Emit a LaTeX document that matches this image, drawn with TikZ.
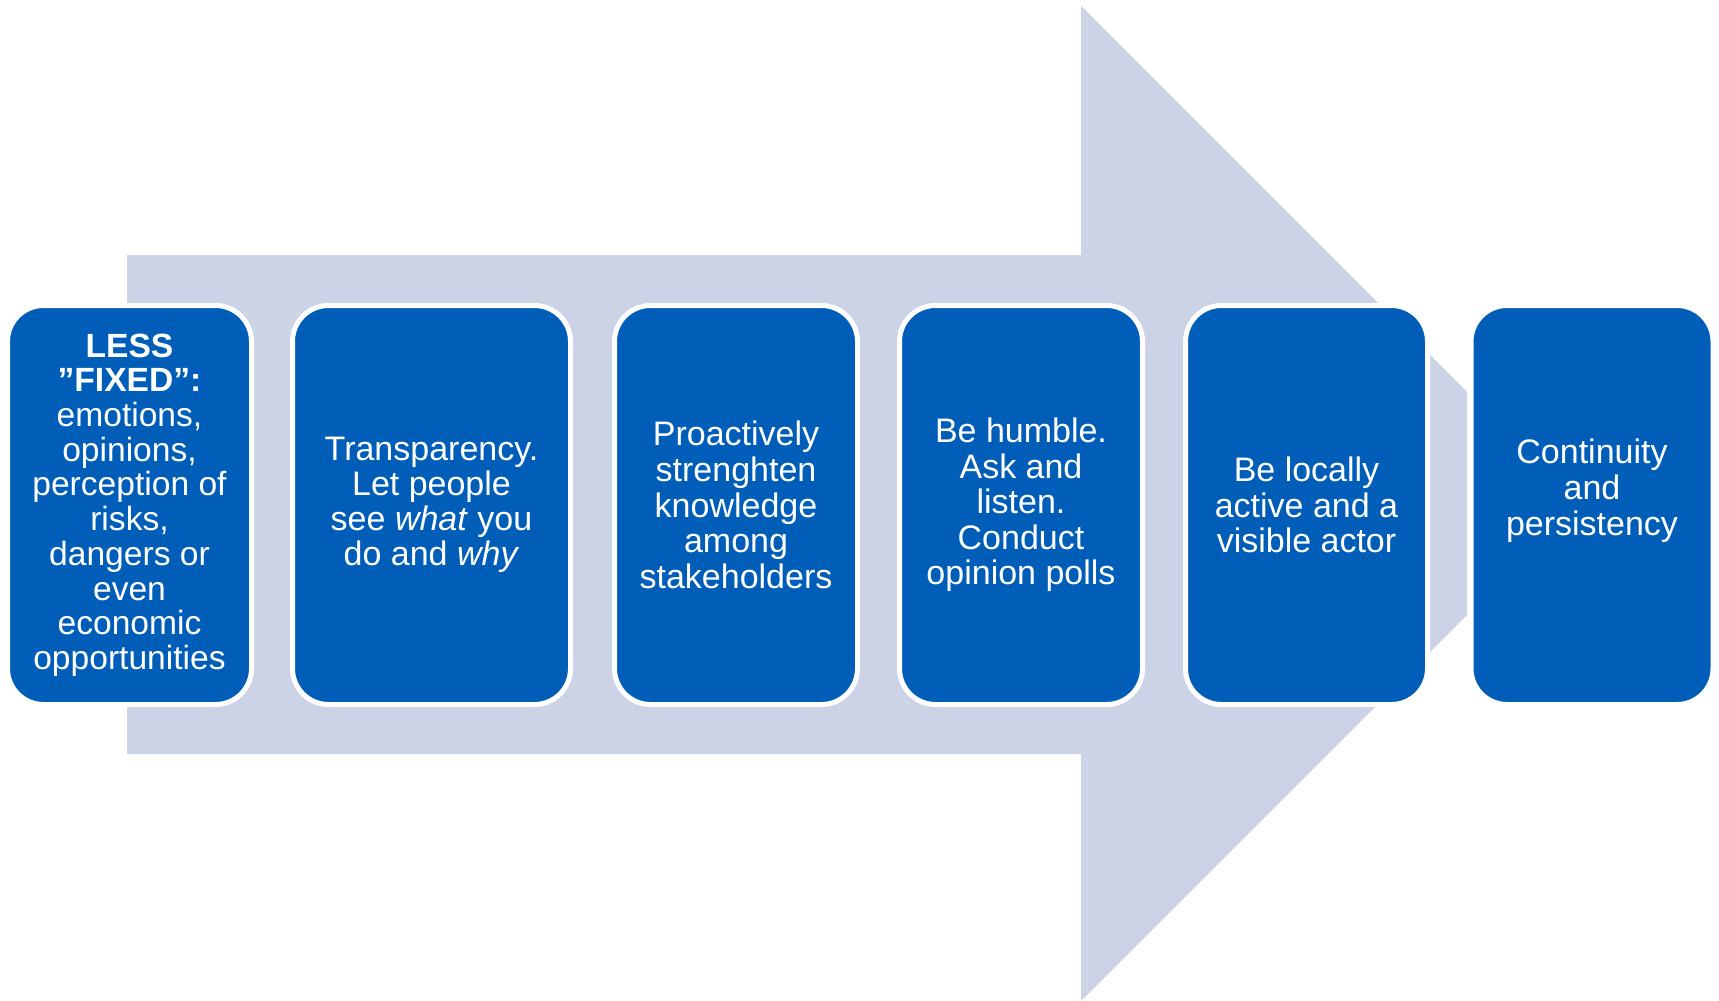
\documentclass[tikz,border=0pt]{standalone}
\usepackage{fontspec}
\setmainfont{Liberation Sans}
\definecolor{boxblue}{RGB}{0,94,184}
\definecolor{arrowlav}{RGB}{204,211,230}
\tikzset{
  stepbox/.style={draw=white, line width=2.5pt, fill=boxblue, rounded corners=18pt,
    text=white, align=center, inner sep=0pt, minimum height=199.5pt,
    font=\fontsize{17pt}{17.8pt}\selectfont},
  bgarrow/.style={fill=arrowlav}
}
\begin{document}
\begin{tikzpicture}[x=0.5pt,y=-0.5pt]
\useasboundingbox (0,0) rectangle (1719,1001);
\fill[white] (0,0) rectangle (1719,1001);
% background arrow
\fill[bgarrow] (127,255) -- (1081,255) -- (1081,6) -- (1467,392) -- (1467,615)
  -- (1081,1001) -- (1081,754) -- (127,754) -- cycle;
% boxes
\node[stepbox, minimum width=122pt, font=\fontsize{16.8pt}{17.35pt}\selectfont] (b1) at (129.5,505)
  {\textbf{LESS}\\\textbf{”FIXED”:}\\emotions,\\opinions,\\perception of\\risks,\\dangers or\\even\\economic\\opportunities};
\node[stepbox, minimum width=139pt, font=\fontsize{17pt}{17.4pt}\selectfont] (b2) at (431.5,505)
  {Transparency.\\Let people\\see \textit{what} you\\do and \textit{why}};
\node[stepbox, minimum width=121.5pt] (b3) at (736,505)
  {Proactively\\strenghten\\knowledge\\among\\stakeholders};
\node[stepbox, minimum width=121.5pt] (b4) at (1021,505)
  {Be humble.\\Ask and\\listen.\\Conduct\\opinion polls};
\node[stepbox, minimum width=121pt] (b5) at (1306.5,505)
  {Be locally\\active and a\\visible actor};
\node[stepbox, minimum width=121pt] (b6) at (1592,505)
  {Continuity\\and\\persistency\\\mbox{}};
\end{tikzpicture}
\end{document}
